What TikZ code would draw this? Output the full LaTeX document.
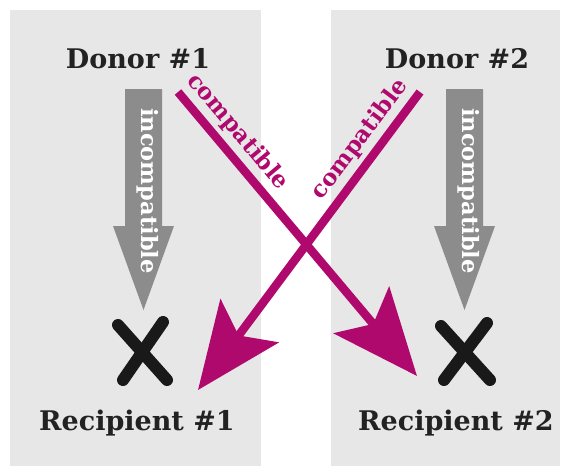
\documentclass[tikz,border=0pt]{standalone}
\usepackage{fontspec}
\setmainfont{DejaVu Serif}
\usetikzlibrary{arrows.meta}
\definecolor{panelgray}{HTML}{E7E7E8}
\definecolor{arrowgray}{HTML}{8C8C8C}
\definecolor{magentaA}{HTML}{B0096E}
\definecolor{inkdark}{HTML}{222222}
\tikzset{
  panel/.style={fill=panelgray, draw=none},
  person/.style={font=\bfseries\fontsize{27}{30}\selectfont, text=inkdark, anchor=base, inner sep=0pt},
  grayarrow/.style={fill=arrowgray, draw=none},
  graylabel/.style={font=\bfseries\fontsize{22.5}{25}\selectfont, text=white, rotate=-90, anchor=mid, inner sep=0pt},
  matcharrow/.style={draw=magentaA, line width=8.5pt, -{Stealth[length=86pt,width=72pt,inset=18pt]}},
  matchlabel/.style={font=\bfseries\fontsize{23}{25}\selectfont, text=magentaA, anchor=mid, inner sep=0pt},
  xmark/.style={draw=black!90, line width=12pt, line cap=round},
}
\begin{document}
\begin{tikzpicture}[x=1pt,y=-1pt]
\useasboundingbox (0,0) rectangle (568,466);
\fill[white] (0,0) rectangle (568,466);
% panels
\path[panel] (10,10) rectangle (261,466);
\path[panel] (331,10) rectangle (560,466);
% people
\node[person] (d1) at (138,68) {Donor \#1};
\node[person] (d2) at (457,68) {Donor \#2};
\node[person] (r1) at (137,430) {Recipient \#1};
\node[person] (r2) at (456,430) {Recipient \#2};
% gray incompatible arrows
\path[grayarrow] (125,89) -- (162,89) -- (162,226) -- (174,226) -- (143.5,310) -- (113,226) -- (125,226) -- cycle;
\path[grayarrow] (446,89) -- (483,89) -- (483,226) -- (495,226) -- (464.5,310) -- (434,226) -- (446,226) -- cycle;
\node[graylabel] (inc1) at (144,191) {incompatible};
\node[graylabel] (inc2) at (465,191) {incompatible};
% X marks
\draw[xmark] (118,325) -- (167,380);
\draw[xmark] (163,322) -- (123,380);
\draw[xmark] (441,326) -- (490,380);
\draw[xmark] (487,323) -- (444,380);
% compatible arrows
\coordinate (a1) at (178,92);
\coordinate (a2) at (417,376);
\coordinate (b1) at (420,92);
\coordinate (b2) at (198,390);
\draw[matcharrow] (a1) -- (a2);
\draw[matcharrow] (b1) -- (b2);
\node[matchlabel, rotate=-50] (ca) at (235,134.5) {compatible};
\node[matchlabel, rotate=53] (cb) at (363,142) {compatible};
\end{tikzpicture}
\end{document}
